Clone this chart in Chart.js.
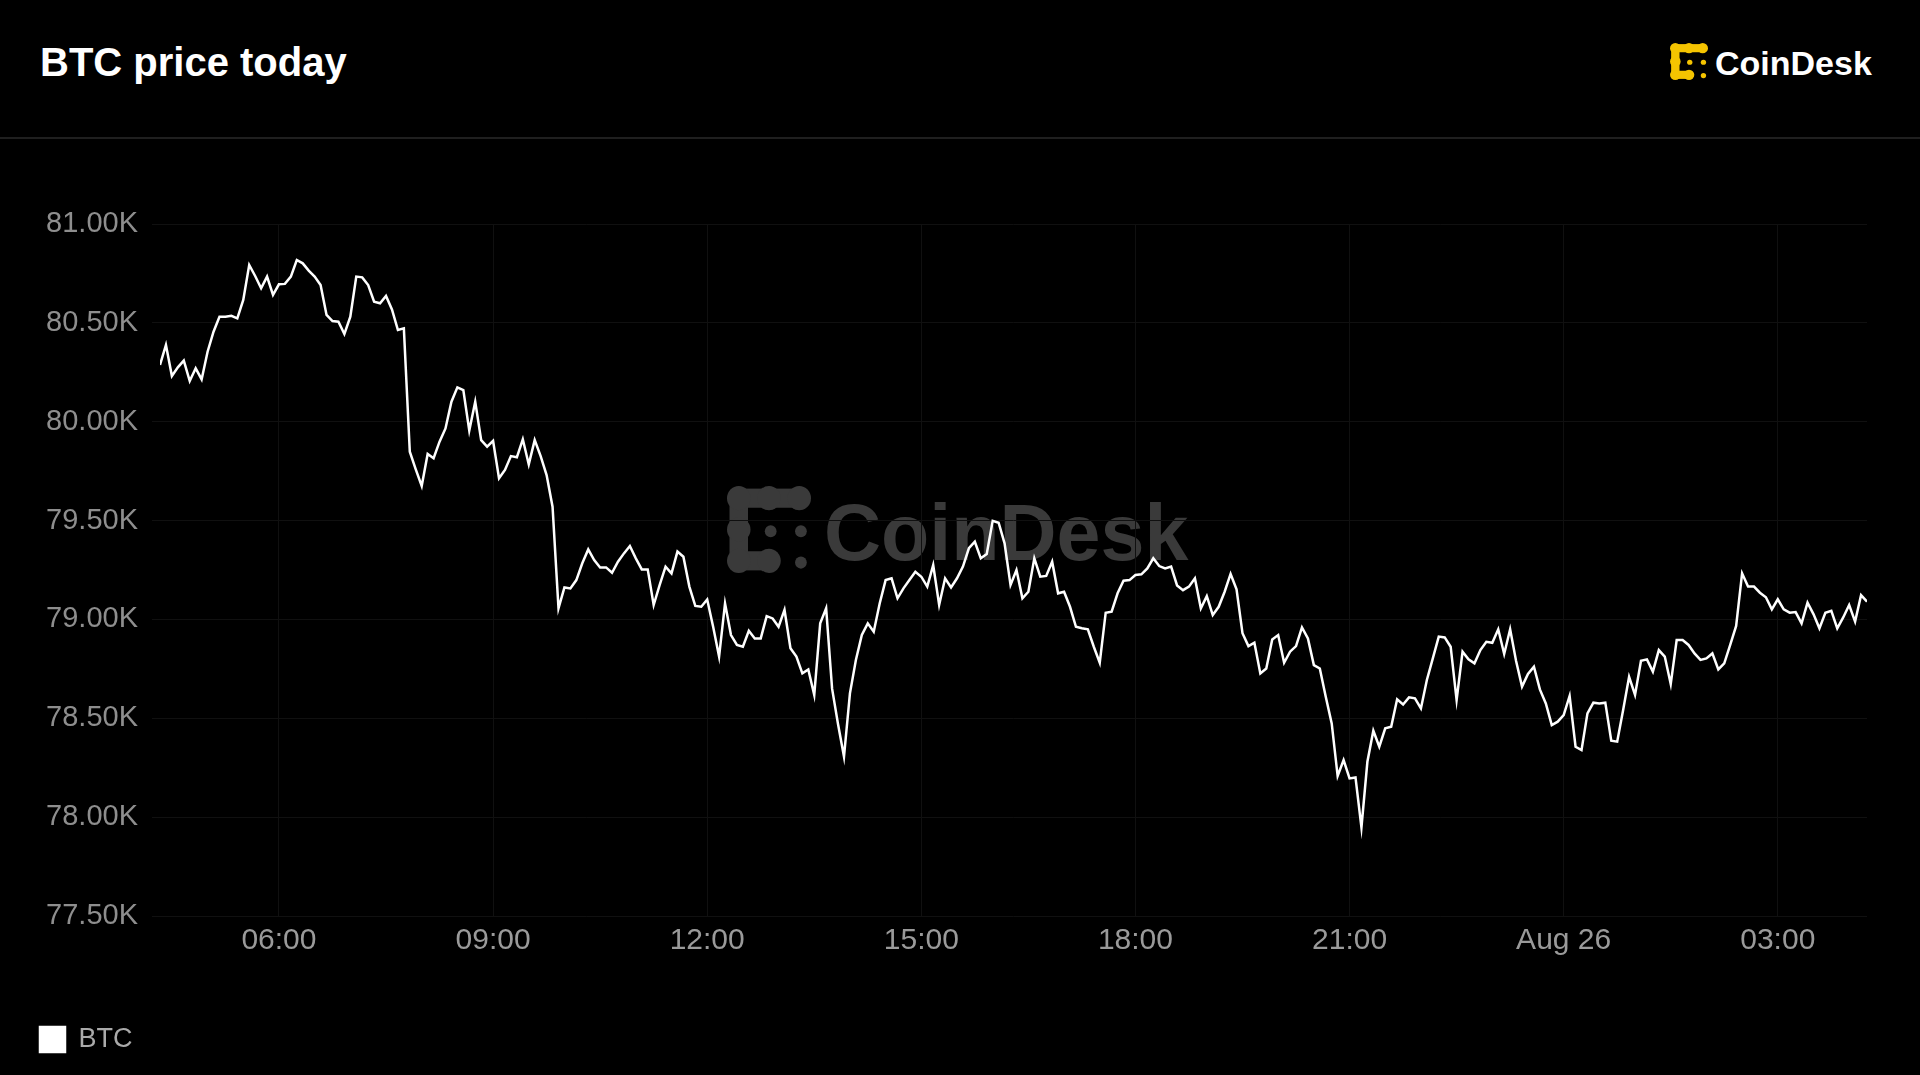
<!DOCTYPE html>
<html>
<head>
<meta charset="utf-8">
<title>BTC price today</title>
<script src="https://cdn.jsdelivr.net/npm/chart.js"></script>
<style>
  html, body {
    margin: 0;
    padding: 0;
    background: #000;
    width: 1920px;
    height: 1075px;
    overflow: hidden;
    font-family: "Liberation Sans", Arial, sans-serif;
  }
  .title {
    position: absolute;
    left: 40px;
    top: 42px;
    color: #fff;
    font-size: 40px;
    line-height: 40px;
    font-weight: bold;
  }
  .brand {
    position: absolute;
    left: 1670px;
    top: 43px;
    height: 38px;
  }
  .brand svg { position: absolute; left: 0; top: 0; }
  .brand span {
    position: absolute;
    left: 45px;
    top: 3px;
    color: #fff;
    font-size: 34px;
    line-height: 34px;
    font-weight: bold;
    white-space: nowrap;
  }
  .rule {
    position: absolute;
    left: 0;
    top: 137px;
    width: 1920px;
    height: 2px;
    background: #1f1f1f;
  }
  .watermark {
    position: absolute;
    left: 727px;
    top: 486px;
    color: #3a3a3a;
  }
  .watermark svg { position: absolute; left: 0; top: 0; }
  .watermark span {
    position: absolute;
    left: 97px;
    top: 7px;
    font-size: 79px;
    line-height: 80px;
    font-weight: bold;
    white-space: nowrap;
  }
  .chart-wrap {
    position: absolute;
    left: 0;
    top: 139px;
    width: 1920px;
    height: 936px;
  }
</style>
</head>
<body>

<div class="title">BTC price today</div>

<div class="brand">
  <svg width="38" height="37" viewBox="0 0 100 100" preserveAspectRatio="none" fill="#f5c400">
    <rect x="14" y="3" width="72" height="22"/>
    <rect x="3" y="14" width="22" height="72"/>
    <rect x="14" y="75" width="36" height="22"/>
    <circle cx="14" cy="14" r="14"/><circle cx="50" cy="14" r="14"/><circle cx="86" cy="14" r="14"/>
    <circle cx="14" cy="50" r="14"/><circle cx="14" cy="86" r="14"/><circle cx="50" cy="86" r="14"/>
    <circle cx="52" cy="52" r="7"/><circle cx="88" cy="52" r="7"/><circle cx="88" cy="88" r="7"/>
  </svg>
  <span>CoinDesk</span>
</div>

<div class="rule"></div>

<!-- watermark sits under the transparent chart canvas -->
<div class="watermark">
  <svg width="84" height="87" viewBox="0 0 100 100" preserveAspectRatio="none" fill="#3a3a3a">
    <rect x="14" y="3" width="72" height="22"/>
    <rect x="3" y="14" width="22" height="72"/>
    <rect x="14" y="75" width="36" height="22"/>
    <circle cx="14" cy="14" r="14"/><circle cx="50" cy="14" r="14"/><circle cx="86" cy="14" r="14"/>
    <circle cx="14" cy="50" r="14"/><circle cx="14" cy="86" r="14"/><circle cx="50" cy="86" r="14"/>
    <circle cx="52" cy="52" r="7"/><circle cx="88" cy="52" r="7"/><circle cx="88" cy="88" r="7"/>
  </svg>
  <span>CoinDesk</span>
</div>

<div class="chart-wrap">
  <canvas id="btcChart"></canvas>
</div>

<script>
// series: BTC price every 5 minutes, from 04:20 Aug 25 to 04:15 Aug 26
var seriesName = 'BTC'
var startHour = 4 + 20 / 60
var stepHours = 5 / 60

var btcPrice = [
  80287, 80388, 80231, 80275, 80309, 80206, 80270, 80214, 80354, 80455,
  80531, 80531, 80536, 80523, 80616, 80793, 80737, 80675, 80734, 80641,
  80695, 80697, 80734, 80818, 80801, 80764, 80734, 80691, 80540, 80509,
  80506, 80444, 80531, 80734, 80730, 80691, 80607, 80599, 80636, 80568,
  80464, 80472, 79848, 79759, 79675, 79837, 79815, 79899, 79966, 80101,
  80174, 80160, 79955, 80101, 79907, 79874, 79903, 79714, 79756, 79826,
  79820, 79911, 79784, 79907, 79826, 79730, 79570, 79056, 79162, 79157,
  79199, 79284, 79354, 79300, 79263, 79263, 79236, 79292, 79334, 79371,
  79309, 79253, 79253, 79073, 79174, 79267, 79233, 79343, 79317, 79166,
  79068, 79064, 79101, 78963, 78812, 79081, 78921, 78871, 78862, 78943,
  78904, 78904, 79017, 79005, 78963, 79048, 78854, 78812, 78727, 78747,
  78618, 78980, 79056, 78650, 78470, 78306, 78626, 78795, 78921, 78980,
  78938, 79081, 79199, 79208, 79107, 79157, 79199, 79241, 79216, 79166,
  79275, 79073, 79208, 79162, 79208, 79267, 79360, 79393, 79309, 79331,
  79499, 79489, 79385, 79174, 79250, 79107, 79140, 79309, 79216, 79220,
  79292, 79132, 79140, 79064, 78963, 78955, 78950, 78862, 78781, 79034,
  79039, 79132, 79196, 79199, 79225, 79228, 79258, 79309, 79270, 79258,
  79267, 79172, 79148, 79166, 79208, 79056, 79118, 79022, 79064, 79140,
  79230, 79152, 78930, 78865, 78882, 78727, 78752, 78899, 78921, 78781,
  78837, 78865, 78960, 78904, 78769, 78752, 78609, 78474, 78208, 78289,
  78196, 78201, 77948, 78280, 78437, 78356, 78449, 78457, 78596, 78570,
  78606, 78601, 78550, 78694, 78803, 78913, 78909, 78862, 78592, 78837,
  78798, 78778, 78845, 78887, 78882, 78950, 78825, 78950, 78790, 78660,
  78724, 78761, 78646, 78575, 78466, 78483, 78516, 78613, 78356, 78339,
  78525, 78579, 78575, 78579, 78387, 78382, 78542, 78710, 78618, 78791,
  78798, 78736, 78845, 78812, 78673, 78896, 78896, 78871, 78828, 78795,
  78803, 78828, 78747, 78778, 78871, 78967, 79233, 79166, 79166, 79135,
  79112, 79051, 79102, 79051, 79034, 79037, 78980, 79085, 79027, 78955,
  79034, 79044, 78955, 79010, 79073, 78989, 79123, 79090
]

// x axis ticks (hours since Aug 25 00:00) and their labels
var tickHours  = [6, 9, 12, 15, 18, 21, 24, 27]
var tickLabels = ['06:00', '09:00', '12:00', '15:00', '18:00', '21:00', 'Aug 26', '03:00']

// y axis range
var yMin = 77500
var yMax = 81000
var yStep = 500

var points = btcPrice.map(function (p, i) {
  return { x: startHour + i * stepHours, y: p }
})

Chart.defaults.font.family = '"Liberation Sans", Arial, sans-serif'

var ctx = document.getElementById('btcChart').getContext('2d')
var btcChart = new Chart(ctx, {
  type: 'line',
  data: {
    datasets: [{
      label: seriesName,
      data: points,
      borderColor: '#ffffff',
      backgroundColor: '#ffffff',
      borderWidth: 2.5,
      pointRadius: 0,
      tension: 0,
      fill: false
    }]
  },
  options: {
    responsive: true,
    maintainAspectRatio: false,
    animation: false,
    layout: {
      padding: { left: 30, right: 53, top: 85, bottom: 12 }
    },
    plugins: {
      tooltip: { enabled: false },
      legend: {
        position: 'bottom',
        align: 'start',
        labels: {
          boxWidth: 25,
          boxHeight: 25,
          padding: 10,
          color: '#aaaaaa',
          font: { size: 27 }
        }
      }
    },
    scales: {
      x: {
        type: 'linear',
        min: points[0].x,
        max: points[points.length - 1].x,
        afterBuildTicks: function (scale) {
          scale.ticks = tickHours.map(function (h) { return { value: h } })
        },
        afterFit: function (scale) { scale.height = 100 },
        ticks: {
          color: '#9a9a9a',
          font: { size: 30 },
          padding: 7,
          maxRotation: 0,
          autoSkip: false,
          callback: function (value) {
            var k = tickHours.indexOf(value)
            return k >= 0 ? tickLabels[k] : ''
          }
        },
        grid: { color: '#101010', drawTicks: false },
        border: { display: false }
      },
      y: {
        min: yMin,
        max: yMax,
        afterFit: function (scale) { scale.width = 130 },
        ticks: {
          stepSize: yStep,
          color: '#8e8e8e',
          font: { size: 29 },
          padding: 14,
          callback: function (value) {
            return (value / 1000).toFixed(2) + 'K'
          }
        },
        grid: { color: '#101010', tickLength: 8 },
        border: { display: false }
      }
    }
  }
})
</script>
</body>
</html>
